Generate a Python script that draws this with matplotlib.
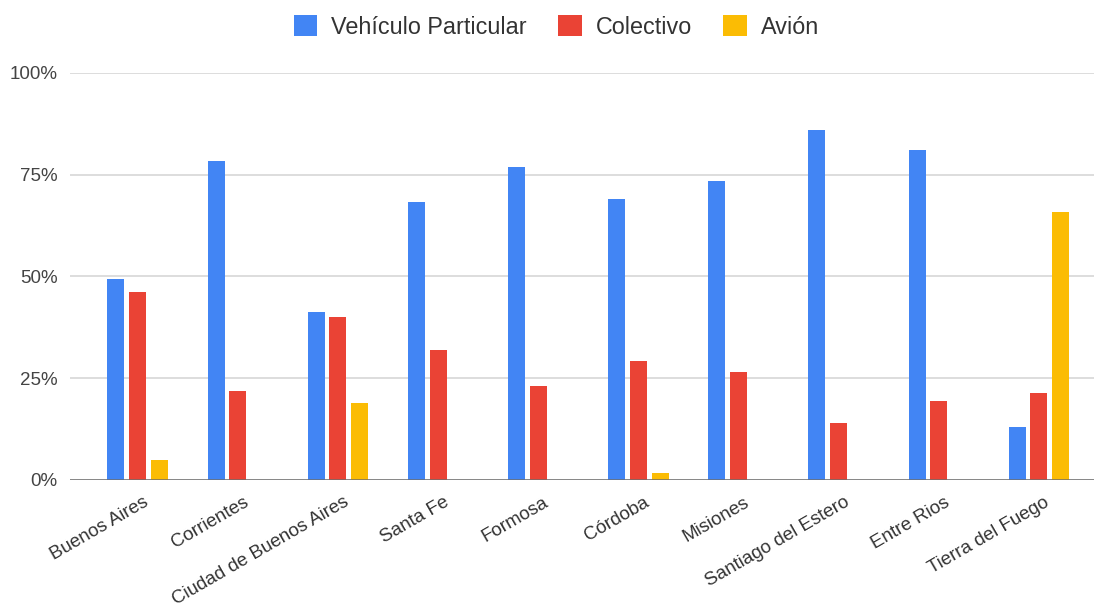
import numpy as np
import matplotlib.pyplot as plt
import matplotlib.transforms as mtransforms
from matplotlib.ticker import PercentFormatter

provincias = ['Buenos Aires', 'Corrientes', 'Ciudad de Buenos Aires', 'Santa Fe', 'Formosa',
              'Córdoba', 'Misiones', 'Santiago del Estero', 'Entre Rios', 'Tierra del Fuego']
vehiculo = [49.4, 78.2, 41.2, 68.2, 76.8, 69.1, 73.4, 85.9, 81.0, 13.1]
colectivo = [46.1, 21.8, 39.9, 31.8, 23.2, 29.3, 26.5, 14.1, 19.4, 21.3]
avion = [5.0, 0, 19.0, 0, 0, 1.6, 0, 0, 0, 65.7]
series = ['Vehículo Particular', 'Colectivo', 'Avión']
colores = ['#4285F4', '#EA4335', '#FBBC04']

plt.rcParams['font.family'] = ['Liberation Sans', 'DejaVu Sans']

fig = plt.figure(figsize=(10.94, 6.04), dpi=100)
ax = fig.add_axes([69.5 / 1094, 1 - 480 / 604, 1 - 69.5 / 1094, (480 - 72.7) / 604])

x = np.arange(len(provincias))
w = 0.17
step = 0.217
for i, (vals, nombre, col) in enumerate(zip([vehiculo, colectivo, avion], series, colores)):
    ax.bar(x + (i - 1) * step, vals, width=w, color=col, label=nombre, zorder=3)

ax.set_ylim(0, 100)
ax.set_xlim(-0.68, 9.55)
ax.set_yticks([0, 25, 50, 75, 100])
ax.yaxis.set_major_formatter(PercentFormatter(decimals=0))
ax.grid(axis='y', color='#dadada', linewidth=1.3, zorder=0)
ax.axhline(0, color='#6e6e6e', linewidth=1.8, zorder=4)
for s in ax.spines.values():
    s.set_visible(False)
ax.tick_params(axis='y', length=0, pad=8.5, labelsize=13.5, labelcolor='#444444')
ax.tick_params(axis='x', length=0, pad=10, labelsize=13.5, labelcolor='#333333')

ax.set_xticks(x)
ax.set_xticklabels(provincias, rotation=30, ha='right', rotation_mode='anchor')
offset = mtransforms.ScaledTranslation(5 / 100, 0, fig.dpi_scale_trans)
for lbl in ax.get_xticklabels():
    lbl.set_transform(lbl.get_transform() + offset)

fig.legend(loc='center', bbox_to_anchor=(556.5 / 1094, 1 - 27 / 604), ncol=3, frameon=False,
           fontsize=16.8, handlelength=1.0, handleheight=1.0, handletextpad=0.6,
           columnspacing=1.35, labelcolor='#333333')

fig.savefig('out.png', dpi=100)
